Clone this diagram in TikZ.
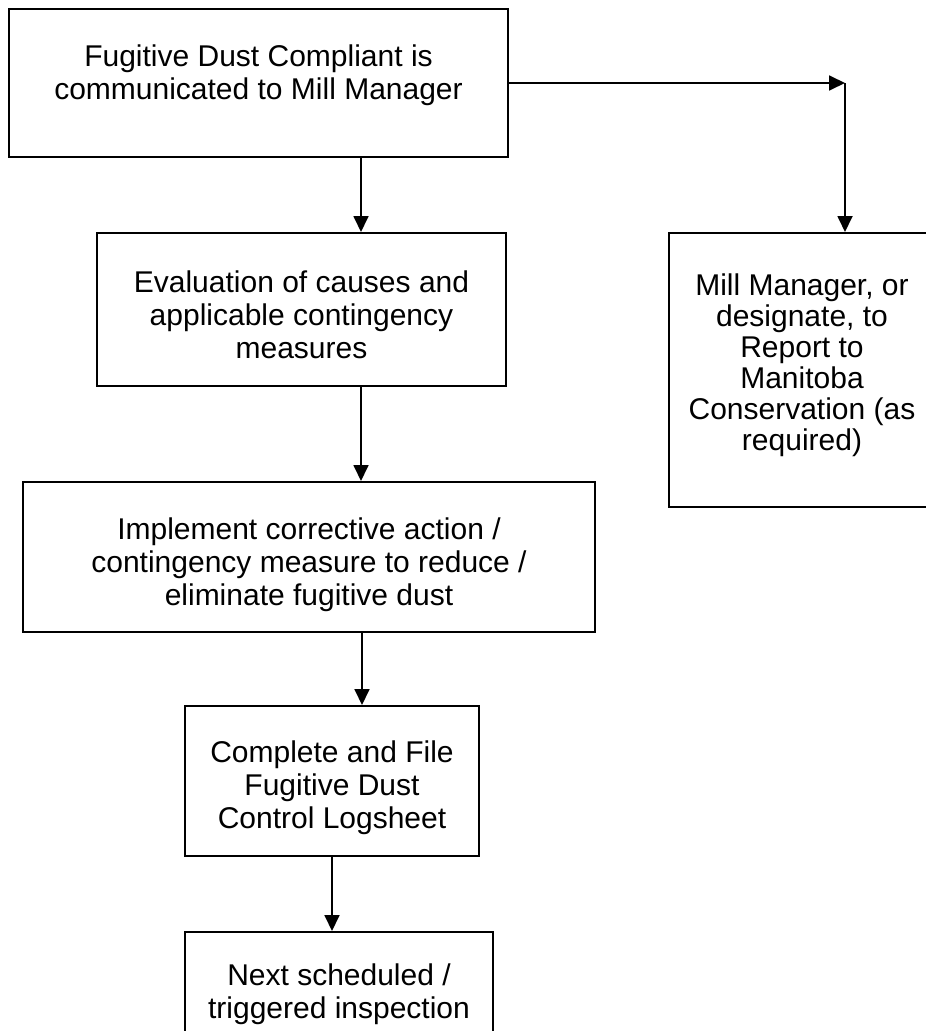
\documentclass[tikz,border=0pt]{standalone}
\usepackage{fontspec}
\setmainfont{Liberation Sans}
\usetikzlibrary{arrows.meta}
\begin{document}
\begin{tikzpicture}[x=1pt,y=-1pt,
  box/.style={draw=black,line width=2pt,inner sep=0pt,fill=white},
  txt/.style={anchor=north,align=center,inner sep=0pt,font=\fontsize{30}{33}\selectfont},
  arr/.style={draw=black,line width=1.8pt,-{Triangle[length=16pt,width=15pt]}}]
\useasboundingbox (0,0) rectangle (926,1031);
\clip (0,0) rectangle (926,1031);
% boxes
\node[box,minimum width=499pt,minimum height=148pt] (b1) at (258.5,83) {};
\node[box,minimum width=409pt,minimum height=153pt] (b2) at (301.5,309.5) {};
\node[box,minimum width=572pt,minimum height=150pt] (b3) at (309,557) {};
\node[box,minimum width=294pt,minimum height=150pt] (b4) at (332,781) {};
\node[box,minimum width=308pt,minimum height=118pt] (b5) at (339,991) {};
\node[box,minimum width=266pt,minimum height=274pt] (r) at (802,370) {};
% texts
\node[txt] (t1) at ([yshift=-37pt]b1.north) {Fugitive Dust Compliant is\\communicated to Mill Manager};
\node[txt] (t2) at ([yshift=-39pt]b2.north) {Evaluation of causes and\\applicable contingency\\measures};
\node[txt] (t3) at ([yshift=-37pt]b3.north) {Implement corrective action /\\contingency measure to reduce /\\eliminate fugitive dust};
\node[txt] (t4) at ([yshift=-36pt]b4.north) {Complete and File\\Fugitive Dust\\Control Logsheet};
\node[txt] (t5) at ([yshift=-33pt]b5.north) {Next scheduled /\\triggered inspection};
\node[txt,font=\fontsize{30}{31}\selectfont] (tr) at ([yshift=-42pt]r.north) {Mill Manager, or\\designate, to\\Report to\\Manitoba\\Conservation (as\\required)};
% connectors
\coordinate (xa) at (361,0);
\coordinate (xb) at (362,0);
\coordinate (xc) at (332,0);
\coordinate (c) at (845,83);
\draw[arr] (b1.south -| xa) -- (b2.north -| xa);
\draw[arr] (b2.south -| xa) -- (b3.north -| xa);
\draw[arr] (b3.south -| xb) -- (b4.north -| xb);
\draw[arr] (b4.south -| xc) -- (b5.north -| xc);
\draw[arr] (b1.east |- c) -- (c);
\draw[arr] (c) -- (c |- r.north);
\end{tikzpicture}
\end{document}
